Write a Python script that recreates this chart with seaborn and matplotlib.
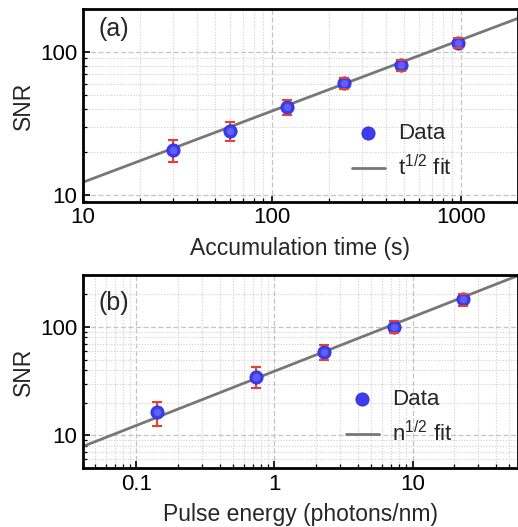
import numpy as np
import pandas as pd
import seaborn as sns
import matplotlib.pyplot as plt
from matplotlib.ticker import LogLocator, FuncFormatter, NullFormatter

# (a) SNR vs accumulation time
time_s = [30, 60, 120, 240, 480, 960]
snr_a = [20.5, 27.9, 41.3, 60.3, 80.5, 116]
err_a = [3.5, 4.3, 5.0, 5.3, 7.0, 10.0]
fit_x_a = [10, 2000]
fit_y_a = [12.2, 172]

# (b) SNR vs pulse energy
energy = [0.14, 0.73, 2.3, 7.3, 23]
snr_b = [16.3, 34.8, 59, 100, 179]
err_b = [4.1, 7.6, 9.0, 13.0, 23.0]
fit_x_b = [0.04, 58]
fit_y_b = [7.8, 297]

sns.set_theme(style="ticks")
plt.rcParams['font.family'] = ['Liberation Sans', 'DejaVu Sans']
plt.rcParams['mathtext.fontset'] = 'custom'
plt.rcParams['mathtext.rm'] = 'Liberation Sans'
plt.rcParams['mathtext.it'] = 'Liberation Sans'

fig = plt.figure(figsize=(5.18, 5.27), dpi=100)
ax_a = fig.add_axes([0.160, 0.617, 0.840, 0.366])
ax_b = fig.add_axes([0.160, 0.112, 0.840, 0.366])

fmt = FuncFormatter(lambda v, _: f"{v:g}")
blue = "#3c3cf0"
red = "#e8402e"
grey = "#777777"


def draw(ax, x, y, e, fx, fy, xlim, ylim, fitlab, xlab, tag, tag_y):
    df = pd.DataFrame({"x": x, "y": y, "e": e})
    fit = pd.DataFrame({"x": fx, "y": fy})
    ax.set_xscale("log")
    ax.set_yscale("log")
    sns.lineplot(data=fit, x="x", y="y", ax=ax, color=grey, lw=2,
                 label=fitlab, zorder=2)
    _, caps, bars = ax.errorbar(df["x"], df["y"], yerr=df["e"], fmt="none",
                                ecolor=red, elinewidth=1.5, capsize=3.5,
                                capthick=1.5, zorder=3)
    for c in caps:
        c.set_zorder(6)
    sns.scatterplot(data=df, x="x", y="y", ax=ax, s=90, color=blue,
                    edgecolor="#2a2ad0", linewidth=0.6, label="Data", zorder=4)
    # soft highlight to hint at the shaded sphere
    ax.scatter(df["x"], df["y"], s=28, color="#6e6eff", linewidth=0,
               alpha=0.7, zorder=5)
    ax.set_xlim(*xlim)
    ax.set_ylim(*ylim)
    for a in (ax.xaxis, ax.yaxis):
        a.set_major_locator(LogLocator(base=10))
        a.set_minor_locator(LogLocator(base=10, subs=np.arange(2, 10)))
        a.set_major_formatter(fmt)
        a.set_minor_formatter(NullFormatter())
    ax.grid(which="major", color="#c4c4c4", ls=(0, (4, 2)), lw=0.9)
    ax.grid(which="minor", color="#d0d0d0", ls=(0, (1, 1.5)), lw=0.8)
    ax.set_axisbelow(True)
    for s in ax.spines.values():
        s.set_linewidth(2)
        s.set_color("black")
    ax.tick_params(which="both", direction="in", top=False, right=False,
                   labelsize=16, colors="black")
    ax.tick_params(which="major", length=5, width=1.2, pad=4)
    ax.tick_params(which="minor", length=3, width=0.9)
    ax.set_xlabel(xlab, fontsize=16.5, labelpad=6)
    ax.set_ylabel("SNR", fontsize=16.5, labelpad=4)
    ax.text(0.035, tag_y, tag, transform=ax.transAxes, fontsize=18,
            ha="left", va="top")
    h, l = ax.get_legend_handles_labels()
    ax.legend(h[::-1], l[::-1], loc="lower right", bbox_to_anchor=(0.885, 0.03),
              frameon=False, fontsize=16, handlelength=1.5, handletextpad=0.6,
              labelspacing=0.5, borderaxespad=0.3)


draw(ax_a, time_s, snr_a, err_a, fit_x_a, fit_y_a, (10, 2000), (8.9, 200),
     r"t$^{1/2}$ fit", "Accumulation time (s)", "(a)", 0.96)
draw(ax_b, energy, snr_b, err_b, fit_x_b, fit_y_b, (0.041, 58), (5.0, 300),
     r"n$^{1/2}$ fit", "Pulse energy (photons/nm)", "(b)", 0.92)

fig.savefig("out.png", dpi=100)
